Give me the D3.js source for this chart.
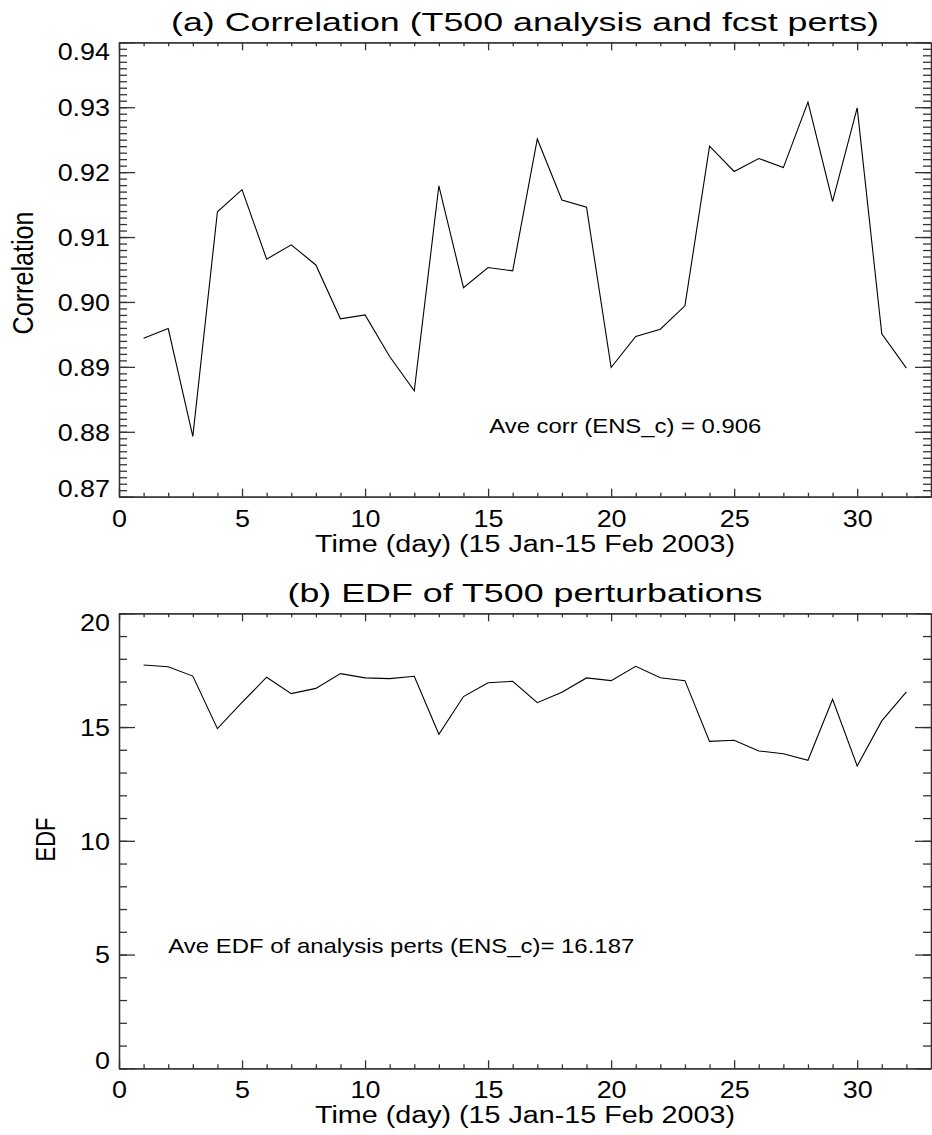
<!DOCTYPE html>
<html>
<head>
<meta charset="utf-8">
<script src="https://cdn.jsdelivr.net/npm/d3@7"></script>
<style>
  body { margin: 0; background: #fff; }
  svg { display: block; font-family: "Liberation Sans", Arial, Helvetica, sans-serif; }
  .axis path, .axis line { stroke: #333; stroke-width: 1.3; }
</style>
</head>
<body>
<script>
const days = [1, 2, 3, 4, 5, 6, 7, 8, 9, 10, 11, 12, 13, 14, 15, 16,
              17, 18, 19, 20, 21, 22, 23, 24, 25, 26, 27, 28, 29, 30, 31, 32];

// (a) correlation between T500 analysis and forecast perts
const corr = [0.8944, 0.8959, 0.8793, 0.9139, 0.9173, 0.9066, 0.9088, 0.9057,
              0.8974, 0.8980, 0.8916, 0.8863, 0.9179, 0.9022, 0.9053, 0.9048,
              0.9251, 0.9157, 0.9146, 0.8899, 0.8947, 0.8958, 0.8994, 0.9240,
              0.9201, 0.9221, 0.9207, 0.9308, 0.9155, 0.9299, 0.8951, 0.8898];

// (b) EDF of T500 perturbations
const edf = [17.73, 17.65, 17.24, 14.93, 16.08, 17.19, 16.47, 16.70,
             17.35, 17.16, 17.13, 17.23, 14.68, 16.34, 16.95, 17.01,
             16.07, 16.53, 17.16, 17.04, 17.67, 17.17, 17.04, 14.37,
             14.42, 13.95, 13.83, 13.54, 16.22, 13.29, 15.27, 16.55];

const xTicks = [0, 5, 10, 15, 20, 25, 30];
const xMinor = [1, 2, 3, 4, 6, 7, 8, 9, 11, 12, 13, 14, 16, 17, 18, 19,
                21, 22, 23, 24, 26, 27, 28, 29, 31, 32];
const corrTicks = [0.87, 0.88, 0.89, 0.90, 0.91, 0.92, 0.93, 0.94];
const edfTicks = [0, 5, 10, 15, 20];

const W = 932, H = 1135;
const svg = d3.select('body').append('svg')
    .attr('width', W)
    .attr('height', H);

// stretch or squeeze a text to a measured width
function fit(sel, width) {
    sel.attr('textLength', width).attr('lengthAdjust', 'spacingAndGlyphs');
}

function panel(cfg) {
    const x = d3.scaleLinear().domain([0, 33]).range([119, 931]);
    const y = d3.scaleLinear().domain(cfg.domain).range([cfg.bottom, cfg.top]);
    const g = svg.append('g');

    // minor ticks first, then major
    const minorY = d3.range(cfg.domain[0], cfg.domain[1] + cfg.minorStep / 2, cfg.minorStep);

    g.append('g').attr('class', 'axis')
        .attr('transform', `translate(119,0)`)
        .call(d3.axisLeft(y).tickValues(minorY).tickSizeInner(-8).tickSizeOuter(0).tickFormat(''));
    g.append('g').attr('class', 'axis')
        .attr('transform', `translate(931,0)`)
        .call(d3.axisRight(y).tickValues(minorY).tickSizeInner(-8).tickSizeOuter(0).tickFormat(''));
    g.append('g').attr('class', 'axis')
        .attr('transform', `translate(0,${cfg.bottom})`)
        .call(d3.axisBottom(x).tickValues(xMinor).tickSizeInner(-4).tickSizeOuter(0).tickFormat(''));
    g.append('g').attr('class', 'axis')
        .attr('transform', `translate(0,${cfg.top})`)
        .call(d3.axisTop(x).tickValues(xMinor).tickSizeInner(-4).tickSizeOuter(0).tickFormat(''));

    const left = g.append('g').attr('class', 'axis')
        .attr('transform', `translate(119,0)`)
        .call(d3.axisLeft(y).tickValues(cfg.ticks).tickSizeInner(-16).tickSizeOuter(0)
            .tickPadding(9).tickFormat(cfg.fmt));
    g.append('g').attr('class', 'axis')
        .attr('transform', `translate(931,0)`)
        .call(d3.axisRight(y).tickValues(cfg.ticks).tickSizeInner(-16).tickSizeOuter(0).tickFormat(''));
    const bottom = g.append('g').attr('class', 'axis')
        .attr('transform', `translate(0,${cfg.bottom})`)
        .call(d3.axisBottom(x).tickValues(xTicks).tickSizeInner(-8).tickSizeOuter(0)
            .tickPadding(13.5).tickFormat(d3.format('d')));
    g.append('g').attr('class', 'axis')
        .attr('transform', `translate(0,${cfg.top})`)
        .call(d3.axisTop(x).tickValues(xTicks).tickSizeInner(-8).tickSizeOuter(0).tickFormat(''));

    g.selectAll('.tick text')
        .attr('fill', '#000')
        .style('font-size', '23px')
        .each(function () {
            const w = this.getComputedTextLength();
            if (w > 0) fit(d3.select(this), w * 1.17);
        });

    // end labels stay inside the axis range
    const lo = cfg.ticks[0], hi = cfg.ticks[cfg.ticks.length - 1];
    left.selectAll('.tick text')
        .attr('dy', d => d === hi ? '17.5px' : d === lo ? '0px' : '8.3px');

    // series
    const line = d3.line()
        .x((d, i) => x(days[i]))
        .y(d => y(d));
    g.append('path')
        .datum(cfg.values)
        .attr('fill', 'none')
        .attr('stroke', '#000')
        .attr('stroke-width', 1.1)
        .attr('d', line);

    // title
    g.append('text')
        .attr('x', 525).attr('y', cfg.titleY)
        .attr('text-anchor', 'middle')
        .style('font-size', '26px')
        .text(cfg.title)
        .call(fit, cfg.titleW);

    // x label
    g.append('text')
        .attr('x', 525).attr('y', cfg.bottom + 55)
        .attr('text-anchor', 'middle')
        .style('font-size', '23px')
        .text('Time (day) (15 Jan-15 Feb 2003)')
        .call(fit, 420);

    // y label
    g.append('text')
        .attr('transform', `translate(${cfg.ylabX},${cfg.ylabY}) rotate(-90)`)
        .attr('text-anchor', 'middle')
        .style('font-size', cfg.ylabSize + 'px')
        .text(cfg.ylab)
        .call(fit, cfg.ylabW);

    // note
    g.append('text')
        .attr('x', cfg.noteX).attr('y', cfg.noteY)
        .style('font-size', '21px')
        .text(cfg.note)
        .call(fit, cfg.noteW);
}

panel({
    domain: [0.87, 0.94], top: 42.3, bottom: 496.7,
    ticks: corrTicks, minorStep: 0.001, fmt: d3.format('.2f'),
    values: corr,
    title: '(a) Correlation (T500 analysis and fcst perts)', titleY: 30.5, titleW: 708,
    ylab: 'Correlation', ylabX: 33.3, ylabY: 273, ylabSize: 30, ylabW: 123,
    note: 'Ave corr (ENS_c) = 0.906', noteX: 489.3, noteY: 432.7, noteW: 272
});

panel({
    domain: [0, 20], top: 613.3, bottom: 1068.3,
    ticks: edfTicks, minorStep: 1, fmt: d3.format('d'),
    values: edf,
    title: '(b) EDF of T500 perturbations', titleY: 602.3, titleW: 475,
    ylab: 'EDF', ylabX: 55, ylabY: 839.5, ylabSize: 28, ylabW: 44,
    note: 'Ave EDF of analysis perts (ENS_c)= 16.187', noteX: 168.3, noteY: 953.3, noteW: 466
});
</script>
</body>
</html>
